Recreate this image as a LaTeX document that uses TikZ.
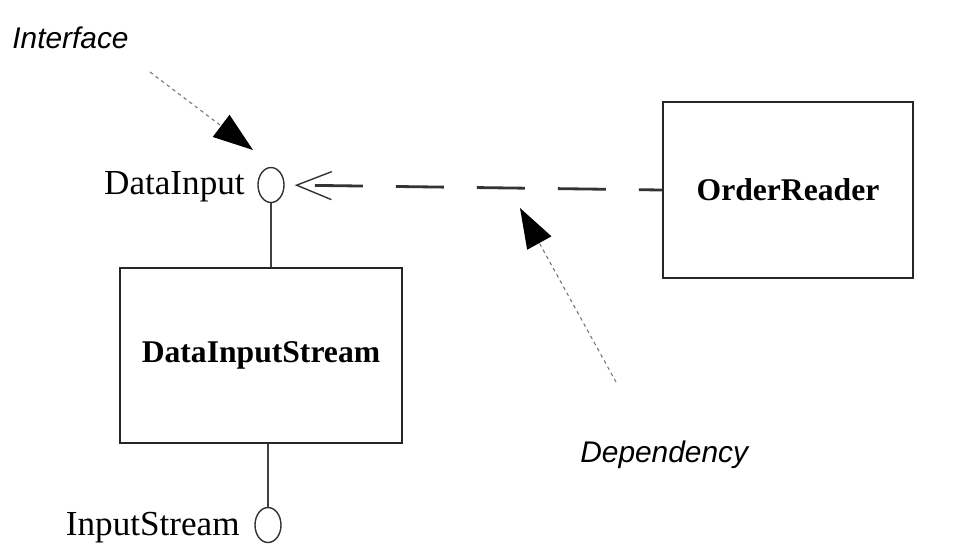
\documentclass[tikz,border=0pt]{standalone}
\usepackage{fontspec}
\setmainfont{Liberation Serif}
\setsansfont{Liberation Sans}
\usetikzlibrary{arrows.meta,shapes.geometric}
\tikzset{
	classbox/.style={draw, line width=1.3pt, color=black!85, text=black, font=\bfseries\fontsize{18}{20}\selectfont, inner sep=0pt},
	lollipop/.style={draw, ellipse, line width=0.8pt, color=black!80, minimum width=0.52cm, minimum height=0.7cm, inner sep=0pt},
	ifacelabel/.style={font=\fontsize{20}{24}\selectfont, inner sep=0pt},
	notelabel/.style={font=\sffamily\itshape\fontsize{17}{20}\selectfont, inner sep=0pt},
	note/.style={line width=0.6pt, color=black!55, dash pattern=on 2pt off 2pt, -{Triangle[length=0.8cm,width=0.55cm,color=black]}},
	depend/.style={line width=1.6pt, color=black!80, dash pattern=on 0.96cm off 0.66cm, dash phase=0.5cm, shorten >=0.2cm, -{Straight Barb[length=0.7cm,width=0.56cm,line width=0.8pt]}}
}

\begin{document}
\begin{tikzpicture}[x=0.02cm, y=-0.02cm]
			%%%%% START %%%%%
			\useasboundingbox (0,0) rectangle (980,556);
			
			\node[classbox, minimum width=5.64cm, minimum height=3.5cm] (dis) at (261,355.5) {DataInputStream};
			\node[classbox, minimum width=5cm, minimum height=3.52cm] (or) at (788,190) {OrderReader};
			
			\node[lollipop] (di) at (271,185) {};
			\node[lollipop] (is) at (268,525) {};
			\node[ifacelabel, anchor=base east] (di-label) at (245,194) {DataInput};
			\node[ifacelabel, anchor=base east] (is-label) at (240,535) {InputStream};
			
			\draw[line width=0.8pt, color=black!75] (di.south) -- (di.south |- dis.north);
			\draw[line width=0.8pt, color=black!75] (is.north) -- (is.north |- dis.south);
			
			\draw[depend] (or.west) -- (di.east);
			
			\node[notelabel, anchor=base west] (iface-note) at (12,48) {Interface};
			\node[notelabel, anchor=base west] (dep-note) at (580,462) {Dependency};
			\coordinate (iface-tail) at (150,72);
			\coordinate (iface-tip) at (253,150);
			\coordinate (dep-tail) at (616,382);
			\coordinate (dep-tip) at (520,208);
			\draw[note] (iface-tail) -- (iface-tip);
			\draw[note] (dep-tail) -- (dep-tip);
			
			%%%%% END %%%%%
\end{tikzpicture}
\end{document}
